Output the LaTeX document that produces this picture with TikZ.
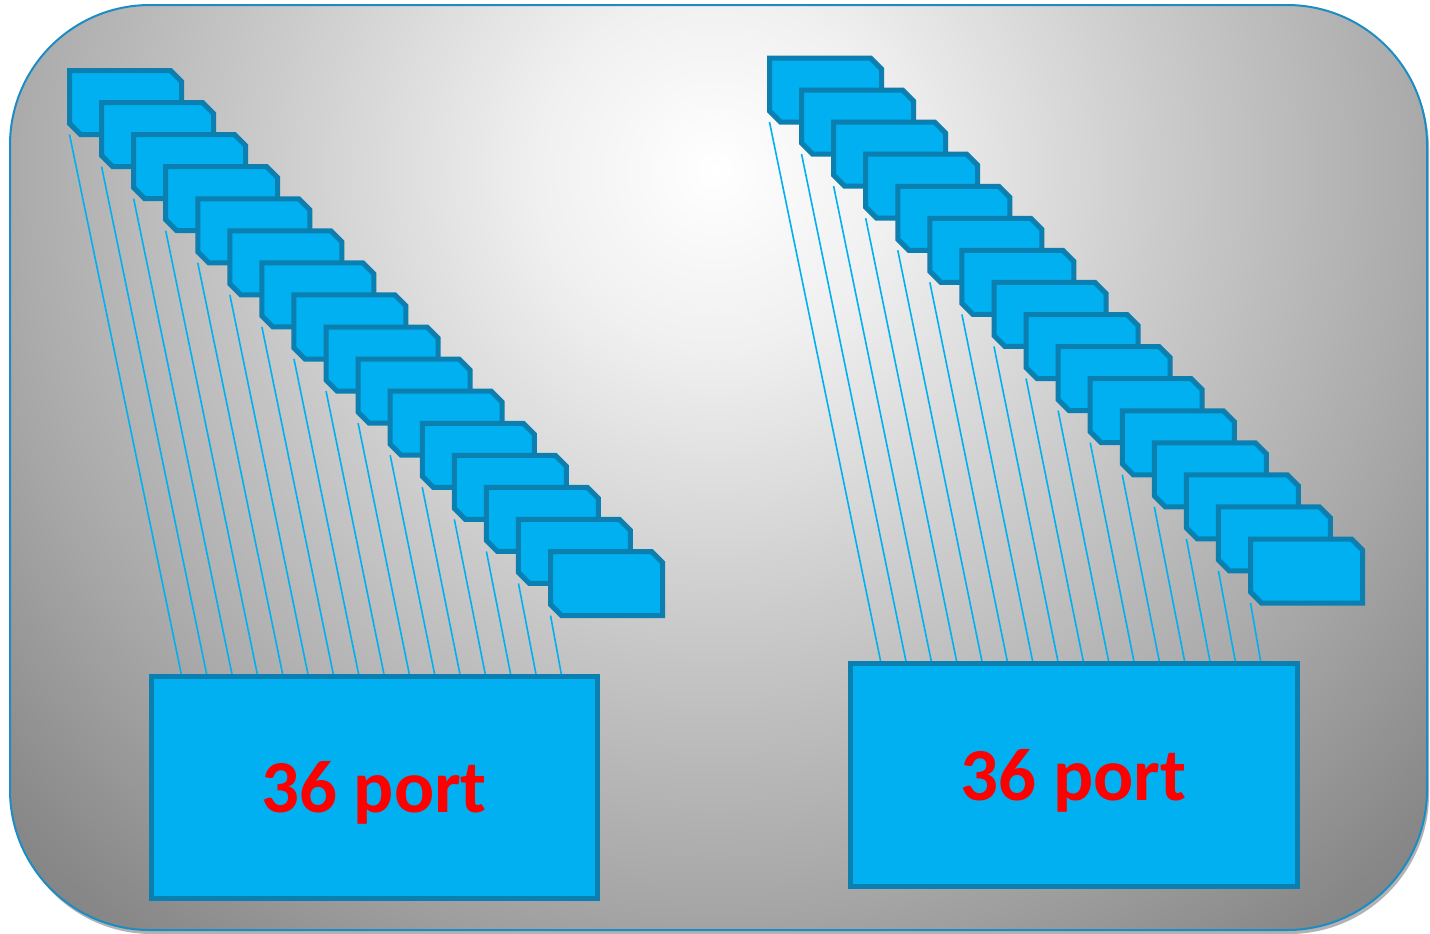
\documentclass[tikz,border=0pt]{standalone}
\usepackage{fontspec}
\setmainfont{Carlito}
\usetikzlibrary{shadows}
\definecolor{cyanfill}{HTML}{00B0F0}
\definecolor{cyanedge}{HTML}{0A7FB0}
\definecolor{frameblue}{HTML}{1C8DC4}
\definecolor{portred}{HTML}{FF0000}
\pgfdeclareradialshading{bgshade}{\pgfpointorigin}{color(0bp)=(white); color(4.5bp)=(black!6); color(11.5bp)=(black!21); color(18bp)=(black!34); color(24bp)=(black!47); color(25bp)=(black!48); color(50bp)=(black!48)}
\pgfdeclarelayer{back}
\pgfdeclarelayer{wires}
\pgfsetlayers{back,wires,main}
\begin{document}
\begin{tikzpicture}[x=0.5pt,y=-0.5pt,
  cardnode/.style={rectangle, inner sep=0pt, outer sep=0pt, minimum width=56pt, minimum height=32pt},
  cardline/.style={draw=cyanedge, fill=cyanfill, line width=2.5pt, line join=miter},
  wire/.style={draw=cyanfill, line width=0.8pt},
  portbox/.style={rectangle, draw=cyanedge, fill=cyanfill, line width=2.5pt,
    inner sep=0pt, outer sep=0pt, text=portred, text depth=0pt,
    font=\fontsize{37.4}{40}\selectfont\bfseries},
  frame/.style={draw=frameblue, line width=1pt, rounded corners=70pt,
    drop shadow={shadow xshift=1pt, shadow yshift=-2pt, opacity=0.3, fill=black},
    path picture={\shade[shading=bgshade] (715,170) circle [radius=500pt];}}
]
\useasboundingbox (0,0) rectangle (1430,933);
\begin{pgfonlayer}{back}
\path[frame] (10,5) rectangle (1427,930);
\end{pgfonlayer}
% left group
\foreach \i in {0,...,15} {
  \node[cardnode] (L\i) at ({69.5+32.07*\i+56}, {70.5+32.07*\i+32}) {};
  \draw[cardline] (L\i.north west) -- ([xshift=-5.5pt]L\i.north east)
    -- ([yshift=-5.5pt]L\i.north east) -- (L\i.south east)
    -- ([xshift=5.5pt]L\i.south west) -- ([yshift=5.5pt]L\i.south west) -- cycle;
}
\node[portbox, minimum width=223pt, minimum height=111pt] (boxL) at (374,787) {36 port};
\foreach \i in {0,...,15} {
  \coordinate (le\i) at ({181.7+25.33*\i}, 676);
}
% right group
\foreach \i in {0,...,15} {
  \node[cardnode] (R\i) at ({769.5+32.07*\i+56}, {58+32.07*\i+32}) {};
  \draw[cardline] (R\i.north west) -- ([xshift=-5.5pt]R\i.north east)
    -- ([yshift=-5.5pt]R\i.north east) -- (R\i.south east)
    -- ([xshift=5.5pt]R\i.south west) -- ([yshift=5.5pt]R\i.south west) -- cycle;
}
\node[portbox, minimum width=223.5pt, minimum height=111.5pt] (boxR) at (1073.5,774.5) {36 port};
\foreach \i in {0,...,15} {
  \coordinate (re\i) at ({881+25.33*\i}, 663);
}
\begin{pgfonlayer}{wires}
\foreach \i in {0,...,15} {
  \draw[wire] (L\i.south west) -- (le\i);
  \draw[wire] (R\i.south west) -- (re\i);
}
\end{pgfonlayer}
\end{tikzpicture}
\end{document}
